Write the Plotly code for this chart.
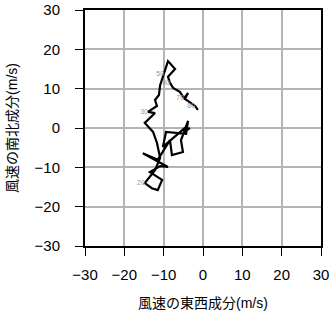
import plotly.graph_objects as go

# Hodograph: wind u (east-west) and v (north-south) components, m/s
u = [-3.3, -4.8, -3.8, -4.3, -9.4, -10.2, -4.3, -5.6, -5.1, -7.9, -8.4, -11.5, -15.3, -8.9,
     -10.9, -13.5, -10.4, -11.5, -13.0, -14.8, -12.2, -10.9, -11.7, -12.7, -14.8, -13.5,
     -12.2, -14.0, -11.7, -12.2, -11.2, -10.9, -9.9, -8.9, -7.1, -8.9, -8.4, -7.6, -5.9,
     -4.8, -3.8, -4.6, -2.0, -1.3]
v = [0.0, -1.0, 1.8, -1.5, -1.0, -4.8, 0.3, -3.1, -6.1, -6.9, -3.1, -8.1, -6.4, -9.9,
     -9.7, -11.2, -13.2, -15.8, -15.3, -14.0, -10.7, -7.6, -3.8, -1.0, 1.3, 2.5,
     3.8, 4.1, 5.6, 7.1, 8.4, 10.9, 13.7, 17.0, 15.0, 13.0, 11.5, 10.2, 9.2,
     7.6, 8.9, 7.4, 5.6, 4.6]

label_index = [19, 27, 32, 36, 39, 42]
label_text = ["20", "30", "50", "60", "70", "80"]

tick_vals = [-30, -20, -10, 0, 10, 20, 30]
x_title = "風速の東西成分(m/s)"
y_title = "風速の南北成分(m/s)"

font_family = "Liberation Sans, Noto Sans CJK JP"

fig = go.Figure()
fig.add_trace(go.Scatter(x=u, y=v, mode="lines",
                         line=dict(color="black", width=2.2), hoverinfo="skip"))
fig.add_trace(go.Scatter(x=[u[i] for i in label_index], y=[v[i] for i in label_index],
                         mode="text", text=label_text, textposition="middle left",
                         textfont=dict(size=7, color="#999999", family=font_family),
                         hoverinfo="skip"))

axis_common = dict(range=[-30, 30], tickvals=tick_vals, showgrid=True,
                   gridcolor="#b4b4b4", gridwidth=2, zeroline=False,
                   showline=True, linecolor="black", linewidth=2, mirror=True,
                   ticks="outside", ticklen=8, tickwidth=1, tickcolor="black",
                   automargin=False,
                   tickfont=dict(size=15, color="black", family=font_family))

fig.update_layout(
    width=331, height=318,
    margin=dict(l=85, r=10, t=10, b=72),
    paper_bgcolor="white", plot_bgcolor="white",
    showlegend=False,
    font=dict(family=font_family, color="black"),
    xaxis=dict(**axis_common, ticklabelstandoff=6,
               title=dict(text=x_title, font=dict(size=14), standoff=16)),
    yaxis=dict(**axis_common, ticklabelstandoff=12,
               title=dict(text=y_title, font=dict(size=14), standoff=14)),
)

fig.write_html("out.html")
